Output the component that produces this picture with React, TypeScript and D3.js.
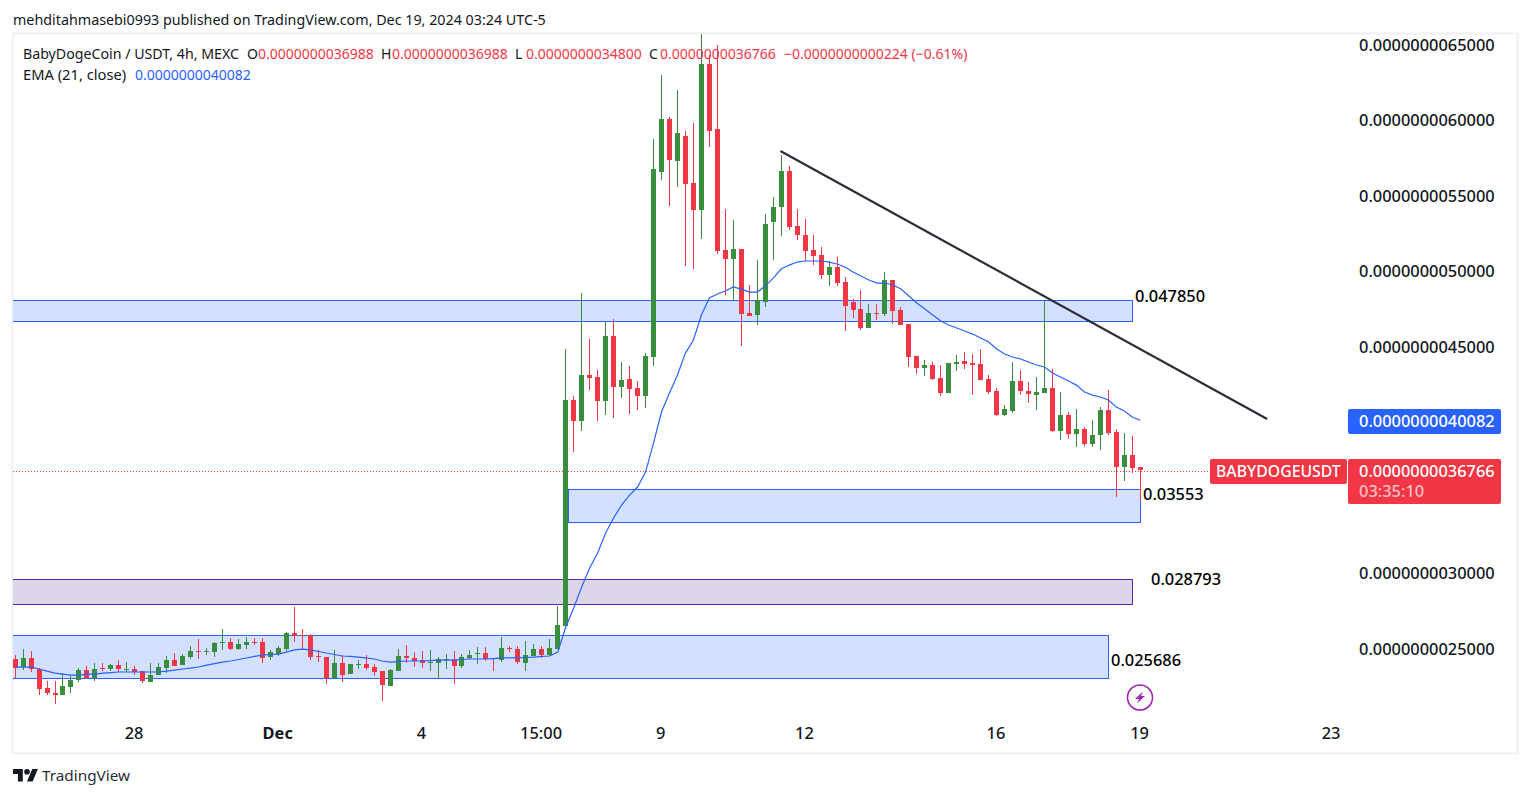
import { useEffect, useRef } from "react";
import * as d3 from "d3";

// prices are in units of 1e-10 USDT, one entry per 4h candle
const opens = [
    24.27, 23.72, 24.31, 23.59, 22.33, 21.99, 21.84, 22.44, 22.83, 23.52,
    23.01, 23.65, 23.56, 23.85, 23.54, 23.59, 23.45, 22.70, 23.17, 23.67,
    24.18, 23.87, 24.40, 24.80, 24.73, 24.73, 25.35, 25.37, 24.93, 25.20,
    25.40, 25.37, 24.40, 24.60, 24.93, 25.97, 25.86, 25.84, 24.47, 24.40,
    23.01, 24.00, 23.28, 23.89, 23.94, 23.74, 23.47, 22.48, 23.47, 24.47,
    24.34, 24.20, 24.00, 24.00, 24.23, 24.27, 23.81, 24.34, 24.62, 24.67,
    24.34, 24.20, 25.00, 24.93, 24.00, 24.47, 24.93, 24.53, 24.93, 26.45,
    41.42, 40.03, 43.08, 42.95, 41.36, 45.66, 42.28, 42.81, 42.22, 41.69,
    44.27, 56.52, 60.03, 57.25, 58.91, 55.79, 54.01, 63.67, 59.37, 51.36,
    50.76, 51.42, 47.19, 47.05, 47.91, 53.21, 54.21, 56.59, 52.95, 52.35,
    51.36, 51.03, 49.70, 50.23, 49.24, 47.91, 47.45, 46.19, 47.19, 47.12,
    49.37, 47.38, 46.46, 44.34, 43.54, 43.74, 42.88, 41.89, 43.81, 44.01,
    43.87, 43.81, 42.81, 42.02, 40.43, 40.70, 42.68, 42.02, 41.75, 41.89,
    42.22, 39.37, 40.43, 39.17, 39.50, 38.51, 39.11, 40.76, 39.30, 36.99,
    37.78, 36.99,
];
const highs = [
    24.53, 24.91, 24.80, 23.65, 22.79, 22.79, 23.32, 23.14, 23.65, 23.81,
    23.98, 23.98, 23.94, 24.18, 24.07, 23.78, 23.47, 23.98, 23.98, 24.47,
    24.64, 24.58, 25.13, 25.57, 24.98, 25.37, 26.26, 25.64, 25.57, 25.70,
    25.64, 25.64, 24.84, 25.13, 26.04, 27.69, 26.26, 25.93, 24.84, 24.40,
    24.84, 24.51, 23.94, 24.20, 24.51, 23.96, 23.47, 23.61, 24.91, 25.20,
    24.73, 24.80, 24.87, 24.40, 24.60, 24.80, 24.60, 24.87, 25.06, 25.06,
    24.34, 25.73, 25.13, 25.13, 25.46, 25.26, 25.13, 25.59, 27.78, 44.80,
    41.69, 48.51, 45.46, 43.41, 46.59, 46.79, 43.94, 43.67, 42.68, 44.53,
    58.71, 62.95, 60.17, 61.95, 59.24, 59.77, 65.66, 64.27, 64.93, 54.07,
    53.34, 51.42, 49.04, 50.69, 53.74, 54.87, 57.65, 56.92, 54.07, 53.41,
    52.35, 51.55, 50.63, 50.89, 49.57, 48.11, 48.71, 47.78, 47.78, 49.90,
    49.37, 47.58, 46.46, 44.34, 44.07, 43.94, 43.74, 43.87, 44.40, 44.60,
    44.47, 44.80, 43.08, 42.22, 41.09, 43.94, 43.41, 42.62, 42.95, 47.98,
    43.48, 41.95, 40.63, 40.83, 39.64, 40.10, 40.96, 42.08, 39.50, 39.24,
    39.04, 36.99,
];
const lows = [
    22.99, 23.50, 23.43, 21.84, 21.88, 21.24, 21.84, 22.04, 22.70, 22.97,
    22.77, 23.43, 23.50, 23.36, 23.39, 23.17, 22.70, 22.70, 23.32, 23.32,
    23.81, 23.87, 24.25, 24.27, 24.53, 24.36, 24.87, 24.82, 24.82, 24.93,
    25.15, 23.96, 24.20, 24.47, 24.80, 25.40, 24.87, 24.23, 24.07, 22.61,
    23.01, 22.75, 23.28, 23.61, 23.54, 23.14, 21.49, 22.48, 23.47, 24.00,
    23.74, 23.67, 23.47, 22.94, 23.61, 22.61, 23.67, 24.27, 23.94, 24.14,
    23.47, 24.07, 24.73, 23.94, 23.47, 24.47, 24.34, 24.47, 24.93, 26.45,
    37.98, 39.37, 42.08, 40.03, 40.43, 40.23, 41.55, 40.50, 40.76, 40.89,
    43.67, 55.99, 54.27, 55.53, 50.30, 50.10, 52.08, 58.18, 51.09, 48.38,
    48.05, 45.00, 46.99, 46.39, 47.58, 50.69, 52.28, 52.68, 52.02, 50.63,
    50.36, 49.44, 48.97, 48.97, 45.99, 46.85, 46.06, 46.19, 46.72, 46.99,
    46.46, 46.39, 43.61, 43.15, 43.01, 42.75, 41.69, 41.89, 43.34, 43.48,
    41.75, 42.75, 41.82, 40.36, 40.36, 40.56, 41.75, 41.23, 40.76, 41.89,
    39.30, 38.77, 38.84, 38.31, 38.38, 38.31, 38.11, 39.11, 35.00, 36.06,
    36.59, 34.80,
];
const closes = [
    23.65, 24.31, 23.59, 22.24, 21.97, 21.84, 22.46, 22.88, 23.52, 23.01,
    23.59, 23.56, 23.85, 23.56, 23.59, 23.39, 22.77, 23.19, 23.72, 24.20,
    23.81, 24.47, 24.78, 24.76, 24.78, 25.31, 25.40, 24.93, 25.24, 25.40,
    25.35, 24.34, 24.71, 24.98, 25.97, 25.79, 25.81, 24.40, 24.42, 23.01,
    24.00, 23.21, 23.94, 23.94, 23.67, 23.41, 22.55, 23.54, 24.47, 24.34,
    24.12, 24.00, 24.07, 24.27, 24.27, 23.81, 24.40, 24.53, 24.67, 24.25,
    24.29, 25.00, 24.95, 24.07, 24.53, 24.93, 24.53, 25.00, 26.52, 41.42,
    40.03, 43.08, 42.88, 41.36, 45.66, 42.28, 42.75, 42.15, 41.69, 44.34,
    56.72, 60.03, 57.32, 59.11, 55.73, 54.01, 63.67, 59.24, 51.29, 50.76,
    51.42, 47.12, 46.99, 48.05, 53.08, 54.21, 56.59, 52.88, 52.35, 51.29,
    50.96, 49.70, 50.23, 49.17, 47.65, 47.38, 46.19, 47.19, 47.12, 49.37,
    47.32, 46.39, 44.27, 43.54, 43.74, 42.81, 41.89, 43.87, 43.94, 43.81,
    43.74, 42.75, 41.95, 40.43, 40.83, 42.68, 42.02, 41.82, 41.95, 42.22,
    39.37, 40.43, 39.17, 39.50, 38.51, 39.11, 40.76, 39.24, 36.99, 37.78,
    36.92, 36.77,
];
const emaValues = [
    23.74, 23.74, 23.74, 23.61, 23.47, 23.34, 23.27, 23.21, 23.21, 23.27,
    23.27, 23.34, 23.37, 23.41, 23.41, 23.41, 23.41, 23.41, 23.41, 23.47,
    23.54, 23.61, 23.67, 23.74, 23.87, 23.97, 24.07, 24.14, 24.24, 24.34,
    24.44, 24.53, 24.57, 24.60, 24.73, 24.87, 24.93, 24.87, 24.77, 24.67,
    24.57, 24.47, 24.44, 24.40, 24.34, 24.27, 24.14, 24.07, 24.10, 24.14,
    24.14, 24.14, 24.17, 24.20, 24.20, 24.20, 24.24, 24.27, 24.27, 24.27,
    24.30, 24.34, 24.34, 24.34, 24.37, 24.40, 24.44, 24.47, 24.73, 26.39,
    27.65, 29.04, 30.30, 31.29, 32.61, 33.61, 34.47, 35.13, 35.66, 36.65,
    38.57, 40.63, 41.89, 43.08, 44.53, 45.40, 47.05, 48.18, 48.44, 48.64,
    48.91, 48.77, 48.57, 48.57, 48.97, 49.50, 50.10, 50.36, 50.56, 50.63,
    50.63, 50.63, 50.56, 50.43, 50.23, 49.90, 49.63, 49.37, 49.17, 49.17,
    49.04, 48.77, 48.31, 47.85, 47.45, 47.05, 46.65, 46.39, 46.19, 45.99,
    45.79, 45.53, 45.26, 44.80, 44.47, 44.27, 44.14, 43.94, 43.74, 43.61,
    43.21, 42.95, 42.68, 42.41, 41.95, 41.75, 41.62, 41.42, 40.96, 40.70,
    40.30, 40.08,
];

const priceTicks = [65, 60, 55, 50, 45, 30, 25];
const timeTickIndex = [15, 33, 51, 66, 81, 99, 123, 141, 165];
const timeTickLabels = ["28", "Dec", "4", "15:00", "9", "12", "16", "19", "23"];

const zoneStart = [-2, 69.3, -2, -2];
const zoneEnd = [140.0, 141.0, 140.0, 137.0];
const zoneHigh = [48.05, 35.53, 29.56, 25.86];
const zoneLow = [46.66, 33.34, 27.9, 23.0];
const zoneLabels = ["0.047850", "0.03553", "0.028793", "0.025686"];
const zoneLabelPrice = [48.3, 35.2, 29.6, 24.2];
const zoneFill = ["#d4e0ff", "#d4e0ff", "#dcd5ec", "#d4e0ff"];
const zoneStroke = ["#2962ff", "#2962ff", "#512da8", "#2962ff"];

const trendIndex = [95.9, 156.9];
const trendPrice = [57.91, 40.17];

const lastPrice = 36.766;
const lastEma = 40.082;

const GREEN = "#388e3c";
const RED = "#f23645";
const BLUE = "#2962ff";
const INK = "#131722";
const FONT = "'Noto Sans', sans-serif";

const fmtPrice = (v: number) => (v * 1e-10).toFixed(13);

export default function App() {
    const svgRef = useRef<SVGSVGElement>(null);

    useEffect(() => {
        if (!svgRef.current) return;
        const svg = d3.select(svgRef.current);
        svg.selectAll("*").remove();
        svg.style("font-family", FONT);

        const x = d3.scaleLinear().domain([0, 141]).range([15.1, 1140.3]);
        const y = d3.scaleLinear().domain([25, 65]).range([648, 44]);
        const px = (i: number) => Math.floor(x(i));

        // chart frame
        svg.append("rect")
            .attr("x", 12.5).attr("y", 33.5).attr("width", 1505).attr("height", 720)
            .attr("fill", "none").attr("stroke", "#f0f0f6").attr("stroke-width", 2);

        svg.append("defs").append("clipPath").attr("id", "plot")
            .append("rect").attr("x", 13).attr("y", 34).attr("width", 1335).attr("height", 719);

        const plot = svg.append("g").attr("clip-path", "url(#plot)");

        // zones sit under the candles
        zoneLabels.forEach((_, k) => {
            plot.append("rect")
                .attr("x", Math.floor(x(zoneStart[k])) + 0.5)
                .attr("y", Math.round(y(zoneHigh[k])) + 0.5)
                .attr("width", Math.floor(x(zoneEnd[k])) - Math.floor(x(zoneStart[k])))
                .attr("height", Math.round(y(zoneLow[k]) - y(zoneHigh[k])))
                .attr("fill", zoneFill[k])
                .attr("stroke", zoneStroke[k]);
        });

        // last price dotted line
        plot.append("line")
            .attr("x1", 13).attr("x2", 1210)
            .attr("y1", Math.ceil(y(lastPrice)) + 0.5).attr("y2", Math.ceil(y(lastPrice)) + 0.5)
            .attr("stroke", RED).attr("stroke-dasharray", "1 2");

        const idx = d3.range(opens.length);
        const col = (i: number) => (closes[i] >= opens[i] ? GREEN : RED);

        plot.append("g").selectAll("rect").data(idx).join("rect")
            .attr("x", (i) => px(i))
            .attr("width", 1)
            .attr("y", (i) => Math.round(y(highs[i])))
            .attr("height", (i) => Math.round(y(lows[i]) - y(highs[i])))
            .attr("fill", col);

        plot.append("g").selectAll("rect").data(idx).join("rect")
            .attr("x", (i) => px(i) - 2)
            .attr("width", 5)
            .attr("y", (i) => Math.round(y(Math.max(opens[i], closes[i]))))
            .attr("height", (i) => Math.max(1, Math.round(Math.abs(y(opens[i]) - y(closes[i])))))
            .attr("fill", col);

        const emaLine = d3.line<number>().x((d, i) => x(i)).y((d) => y(d));
        plot.append("path")
            .attr("d", emaLine(emaValues))
            .attr("fill", "none").attr("stroke", BLUE).attr("stroke-width", 1.2);

        // trend line
        plot.append("line")
            .attr("x1", x(trendIndex[0])).attr("y1", y(trendPrice[0]))
            .attr("x2", x(trendIndex[1])).attr("y2", y(trendPrice[1]))
            .attr("stroke", "#2a2e39").attr("stroke-width", 2.2);

        // zone price notes
        const noteX = [1135, 1143, 1151, 1111];
        zoneLabels.forEach((t, k) => {
            svg.append("text")
                .attr("x", noteX[k]).attr("y", y(zoneLabelPrice[k]) + 0.5)
                .attr("dy", "0.35em")
                .attr("font-size", 16.4).attr("font-weight", 500).attr("fill", "#000")
                .text(t);
        });

        // axes
        const yAxis = svg.append("g")
            .attr("transform", "translate(1359,1)")
            .call(d3.axisRight(y).tickValues(priceTicks).tickSize(0).tickPadding(0).tickFormat((d) => fmtPrice(+d)));
        yAxis.select(".domain").remove();
        yAxis.selectAll("text")
            .style("font-family", FONT).style("font-size", "16.4px").style("font-weight", 500).style("fill", INK);

        const xAxis = svg.append("g")
            .attr("transform", "translate(-1.2,727)")
            .call(
                d3.axisBottom(x)
                    .tickValues(timeTickIndex)
                    .tickSize(0)
                    .tickPadding(0)
                    .tickFormat((_, i) => timeTickLabels[i]),
            );
        xAxis.select(".domain").remove();
        xAxis.selectAll("text")
            .style("font-family", FONT).style("font-size", "16.4px").style("fill", INK)
            .style("font-weight", (_, i) => (timeTickLabels[i] === "Dec" ? 700 : 500));

        // price tags
        const yEma = Math.ceil(y(lastEma));
        const yLast = Math.ceil(y(lastPrice));
        svg.append("rect").attr("x", 1348).attr("y", yEma - 12).attr("width", 153).attr("height", 25).attr("rx", 2).attr("fill", BLUE);
        svg.append("text").attr("x", 1359).attr("y", yEma + 0.5).attr("dy", "0.35em")
            .attr("font-size", 16.4).attr("font-weight", 500).attr("fill", "#fff").text(fmtPrice(lastEma));

        svg.append("rect").attr("x", 1210).attr("y", yLast - 12).attr("width", 137).attr("height", 25).attr("rx", 2).attr("fill", RED);
        svg.append("text").attr("x", 1216).attr("y", yLast + 0.5).attr("dy", "0.35em")
            .attr("font-size", 15.8).attr("font-weight", 500).attr("fill", "#fff").text("BABYDOGEUSDT");

        svg.append("rect").attr("x", 1348).attr("y", yLast - 12).attr("width", 153).attr("height", 45).attr("rx", 2).attr("fill", RED);
        svg.append("text").attr("x", 1359).attr("y", yLast + 0.5).attr("dy", "0.35em")
            .attr("font-size", 16.4).attr("font-weight", 500).attr("fill", "#fff").text(fmtPrice(lastPrice));
        svg.append("text").attr("x", 1359).attr("y", yLast + 20.5).attr("dy", "0.35em")
            .attr("font-size", 16.4).attr("font-weight", 500).attr("fill", "#fff").attr("fill-opacity", 0.7).text("03:35:10");

        // header and legend
        const label = (tx: number, ty: number, t: string, fill: string, size = 14) =>
            svg.append("text").attr("x", tx).attr("y", ty).attr("dy", "0.35em")
                .attr("font-size", size).attr("fill", fill).text(t);

        label(13, 19.5, "mehditahmasebi0993 published on TradingView.com, Dec 19, 2024 03:24 UTC-5", INK, 14.3);
        label(23, 54, "BabyDogeCoin / USDT, 4h, MEXC", INK, 14.2);
        label(247, 54, "O", INK);
        label(258, 54, "0.0000000036988", RED);
        label(381, 54, "H", INK);
        label(392, 54, "0.0000000036988", RED);
        label(515, 54, "L", INK);
        label(526, 54, "0.0000000034800", RED);
        label(649, 54, "C", INK);
        label(660, 54, "0.0000000036766", RED);
        label(784, 54, "\u22120.0000000000224 (\u22120.61%)", RED);
        label(23, 75, "EMA (21, close)", INK, 14.7);
        label(135, 75, "0.0000000040082", BLUE);

        // lightning marker on the time axis
        const bolt = svg.append("g").attr("transform", "translate(1140,697.5)");
        bolt.append("circle").attr("r", 12.5).attr("fill", "none").attr("stroke", "#9c27b0").attr("stroke-width", 1.6);
        bolt.append("path").attr("d", "M3,-6 L-5,1.5 L-1,1.5 L-3,6 L5,-1.5 L1,-1.5 Z").attr("fill", "#9c27b0");

        // TradingView logo
        svg.append("path")
            .attr("transform", "translate(13,766.2) scale(0.7)")
            .attr("d", "M14 22H7V11H0V4h14v18zM28 22h-8l7.5-18h8L28 22z")
            .attr("fill", INK);
        svg.append("circle").attr("cx", 13 + 20 * 0.7).attr("cy", 766.2 + 8 * 0.7).attr("r", 2.8).attr("fill", INK);
        label(42, 776, "TradingView", "#2a2e39", 15.3);
    }, []);

    return (
        <div style={{ position: "absolute", left: 0, top: 0 }}>
            <svg ref={svgRef} width={1530} height={798} style={{ display: "block", background: "#fff" }}></svg>
        </div>
    );
}
